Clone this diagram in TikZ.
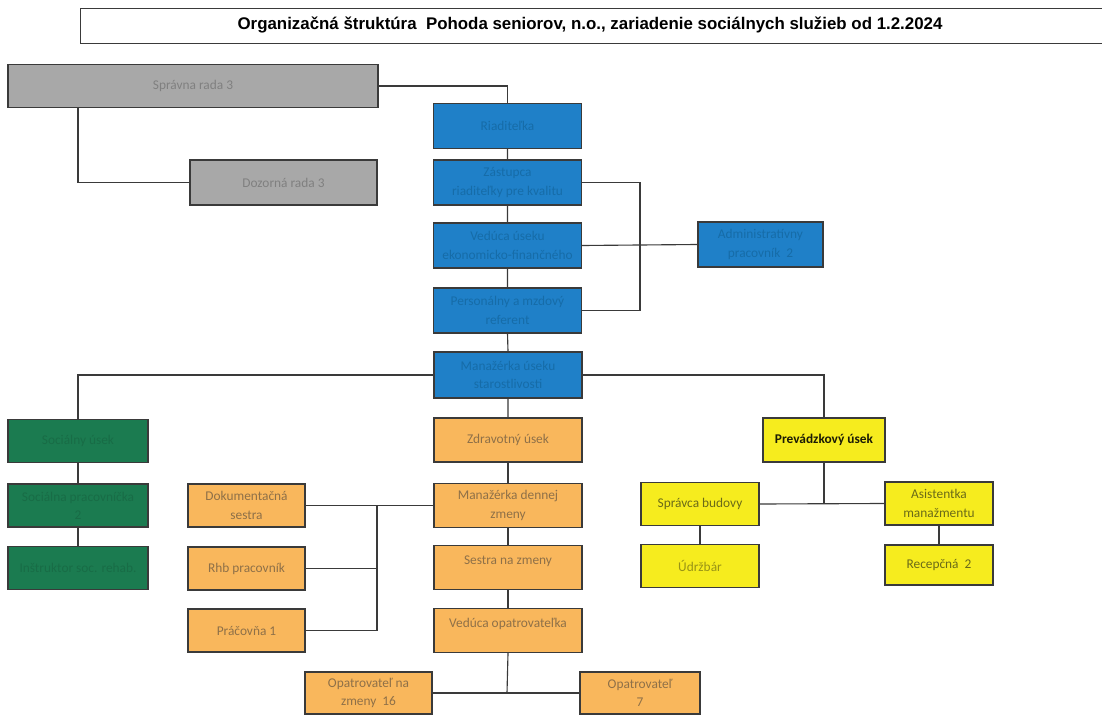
\documentclass[tikz,border=0pt]{standalone}
\usepackage{fontspec}
\setmainfont{Carlito}
\newfontfamily\titlefont{Liberation Sans}
\usetikzlibrary{positioning}

\definecolor{grayfill}{HTML}{A8A8A8}
\definecolor{grayink}{HTML}{808080}
\definecolor{bluefill}{HTML}{1F80C8}
\definecolor{blueink}{HTML}{166CA8}
\definecolor{greenfill}{HTML}{1B7B50}
\definecolor{greenink}{HTML}{186C46}
\definecolor{orangefill}{HTML}{F9B75C}
\definecolor{orangeink}{HTML}{8E7048}
\definecolor{yellowfill}{HTML}{F6EC1E}
\definecolor{yellowink}{HTML}{6A6A18}
\definecolor{lineink}{HTML}{3A3A3A}

\tikzset{
  unit/.style={draw=lineink, line width=0.9pt, inner sep=1pt, align=center,
    font=\fontsize{9.5}{13}\selectfont},
  graybox/.style={unit, fill=grayfill, text=grayink},
  bluebox/.style={unit, fill=bluefill, text=blueink, minimum width=3.7cm, minimum height=1.12cm},
  greenbox/.style={unit, fill=greenfill, text=greenink, minimum width=3.5cm, minimum height=1.08cm},
  orangebox/.style={unit, fill=orangefill, text=orangeink, minimum width=3.7cm, minimum height=1.1cm},
  sidebox/.style={orangebox, minimum width=2.93cm, minimum height=1.08cm},
  yellowbox/.style={unit, fill=yellowfill, text=yellowink, minimum width=2.95cm, minimum height=1.06cm},
  link/.style={draw=lineink, line width=0.8pt}
}

\begin{document}
\begin{tikzpicture}[x=0.025cm, y=-0.025cm]
  \useasboundingbox[fill=white] (0,0) rectangle (1102,715);
  % title frame
  \draw[lineink, line width=0.7pt] (1102,8) -- (80,8) -- (80,43) -- (1102,43);
  \node (title) at (590,25) {\titlefont\bfseries\fontsize{12}{14}\selectfont
    Organizačná štruktúra~~Pohoda seniorov, n.o., zariadenie sociálnych služieb od 1.2.2024};

  % boards
  \node[graybox, minimum width=9.25cm, minimum height=1.08cm] (spr) at (193,86) {Správna rada 3};
  \node[graybox, minimum width=4.68cm, minimum height=1.12cm] (doz) at (283.5,182.5) {Dozorná rada 3};

  % management column
  \node[bluebox] (b1) at (507.5,126) {Riaditeľka};
  \node[bluebox] (b2) at (507.5,182.5) {Zástupca\\riaditeľky pre kvalitu};
  \node[bluebox] (b3) at (507.5,245.5) {Vedúca úseku\\ekonomicko-finančného};
  \node[bluebox] (b4) at (507.5,310.5) {Personálny a mzdový\\referent};
  \node[bluebox, minimum width=3.7cm, minimum height=1.15cm] (b5) at (508,375) {Manažérka úseku\\starostlivosti};
  \node[bluebox, minimum width=3.12cm] (adm) at (760.5,244.5) {Administratívny\\pracovník~ 2};

  % social unit
  \node[greenbox] (g1) at (78,441) {Sociálny úsek};
  \node[greenbox] (g2) at (78,505.5) {Sociálna pracovníčka\\2};
  \node[greenbox] (g3) at (78,568) {Inštruktor soc. rehab.};

  % health unit
  \node[orangebox] (zdr) at (508,440) {Zdravotný úsek};
  \node[orangebox] (man) at (508,505.5) {Manažérka dennej\\zmeny};
  \node[orangebox] (ses) at (508,567.5) {Sestra na zmeny\\[-2pt]~};
  \node[orangebox] (ved) at (508,630.5) {Vedúca opatrovateľka\\[-2pt]~};
  \node[sidebox] (dok) at (246.5,505.5) {Dokumentačná\\sestra};
  \node[sidebox] (rhb) at (246.5,568.5) {Rhb pracovník};
  \node[sidebox] (pra) at (246.5,630.5) {Práčovňa 1};
  \node[orangebox, minimum width=3.18cm, minimum height=1.05cm] (opn) at (368.5,693) {Opatrovateľ na\\zmeny~ 16};
  \node[orangebox, minimum width=3cm, minimum height=1.05cm] (op7) at (640,693) {Opatrovateľ\\7};

  % operations unit
  \node[yellowbox, minimum width=3.05cm, minimum height=1.1cm, text=black!75!yellowink,
    font=\bfseries\fontsize{9.5}{13}\selectfont] (prev) at (824,440) {Prevádzkový úsek};
  \node[yellowbox] (sb) at (700,504) {Správca budovy};
  \node[yellowbox, text=yellowink!40!yellowfill!80!black] (udr) at (700,566) {Údržbár};
  \node[yellowbox, minimum width=2.7cm, minimum height=1.08cm] (asi) at (939,503.5) {Asistentka\\manažmentu};
  \node[yellowbox, minimum width=2.7cm, minimum height=1.0cm] (rec) at (939,565) {Recepčná~ 2};

  \coordinate (rj) at (640,245);
  \coordinate (lj) at (377,505.5);
  \coordinate (oj) at (507,693);

  % connectors
  \draw[link] (spr.east) -| (b1.north);
  \draw[link] (spr.south -| g1.north) |- (doz.west);
  \draw[link] (b1.south) -- (b2.north) (b2.south) -- (b3.north) (b3.south) -- (b4.north)
    (b4.south) -- (b5.north) (b5.south) -- (zdr.north);
  \draw[link] (b2.east) -| (rj) |- (b4.east);
  \draw[link] (b3.east) -- (adm.west);
  \draw[link] (g1.north) |- (b5.west);
  \draw[link] (b5.east) -| (prev.north);
  \draw[link] (g1.south) -- (g2.north) (g2.south) -- (g3.north);
  \draw[link] (zdr.south) -- (man.north) (man.south) -- (ses.north) (ses.south) -- (ved.north);
  \draw[link] (dok.east) -- (man.west);
  \draw[link] (lj) |- (pra.east);
  \draw[link] (rhb.east) -- (rhb.east -| lj);
  \draw[link] (ved.south) -- (oj);
  \draw[link] (opn.east) -- (op7.west);
  \draw[link] (prev.south) -- (prev.south |- sb.east);
  \draw[link] (sb.east) -- (asi.west);
  \draw[link] (sb.south) -- (udr.north) (asi.south) -- (rec.north);
\end{tikzpicture}
\end{document}
